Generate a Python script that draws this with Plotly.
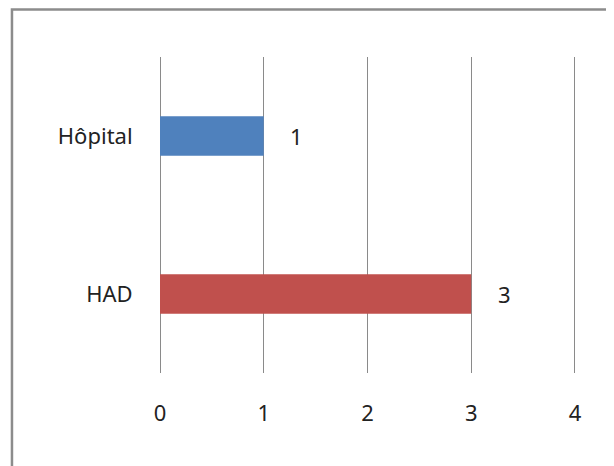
import plotly.graph_objects as go

categories = ["Hôpital", "HAD"]
values = [1, 3]
colors = ["#4F81BD", "#C0504D"]
x_ticks = [0, 1, 2, 3, 4]

font = dict(family="Noto Sans, Open Sans, sans-serif", size=22, color="#222222")

fig = go.Figure()
for cat, val, col in zip(categories, values, colors):
    fig.add_trace(go.Bar(
        x=[val], y=[cat],
        orientation="h",
        marker=dict(color=col, line=dict(width=0)),
        width=0.25,
        hoverinfo="x+y",
    ))

# data labels to the right of each bar
for cat, val in zip(categories, values):
    fig.add_annotation(
        x=val, y=cat, text=str(val),
        showarrow=False, xanchor="center", xshift=33,
        font=font,
    )

# outer chart frame (right and bottom edges fall outside the picture)
fig.add_shape(
    type="rect", xref="paper", yref="paper",
    x0=-0.355, x1=1.15, y0=-0.4, y1=1.15,
    line=dict(color="#8c8c8c", width=2.5),
)

fig.update_layout(
    width=606, height=458,
    margin=dict(l=152, r=37, t=49, b=93),
    paper_bgcolor="white", plot_bgcolor="white",
    showlegend=False,
    font=font,
    barmode="overlay",
    xaxis=dict(
        range=[0, 4.02], tickvals=x_ticks, showgrid=True,
        gridcolor="#8a8a8a", gridwidth=1,
        zeroline=True, zerolinecolor="#8a8a8a", zerolinewidth=1,
        showline=False,
        ticks="outside", ticklen=21, tickcolor="rgba(0,0,0,0)",
    ),
    yaxis=dict(
        categoryorder="array", categoryarray=categories[::-1],
        showgrid=False, zeroline=False, showline=False,
        ticks="outside", ticklen=22, tickcolor="rgba(0,0,0,0)",
    ),
)

fig.write_html("out.html")
